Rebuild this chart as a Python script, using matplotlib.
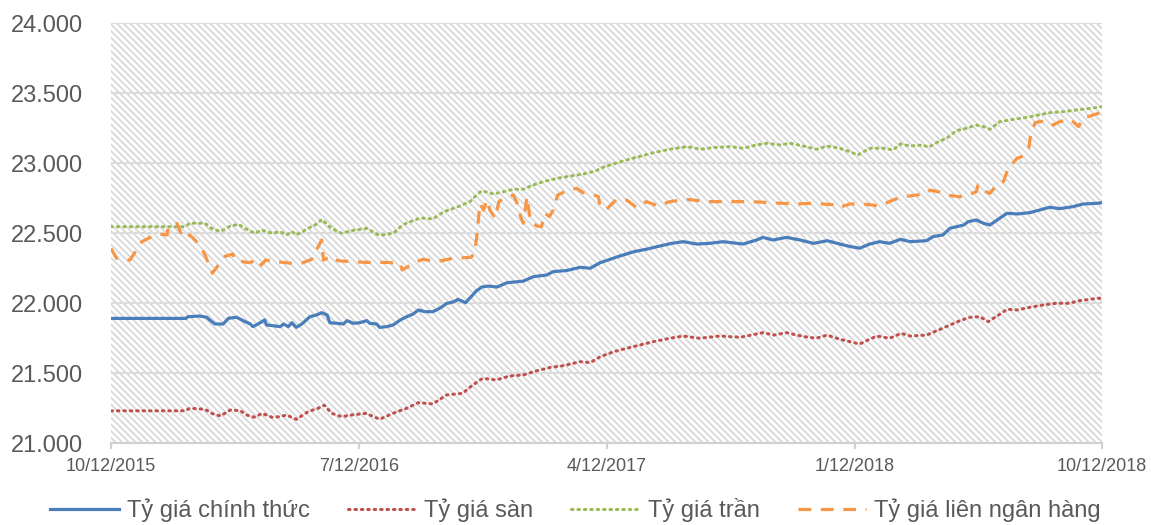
import numpy as np
import matplotlib
matplotlib.use('Agg')
from matplotlib import pyplot as plt
from matplotlib.patches import Rectangle

plt.rcParams['font.family'] = ['Liberation Sans', 'DejaVu Sans']
plt.rcParams['hatch.linewidth'] = 1.2

# Days counted from 10/12/2015, values in VND per USD
start = np.datetime64('2015-10-12')

chinh_thuc_days = [0, 83, 85, 98, 106, 109, 115, 124, 130, 139, 146, 154, 157, 165, 170, 172,
                   179, 187, 191, 196, 200, 205, 211, 220, 227, 233, 239, 242, 250, 257, 261,
                   268, 275, 283, 286, 294, 297, 305, 312, 320, 327, 334, 340, 347, 356, 364,
                   371, 379, 384, 392, 399, 404, 410, 417, 427, 438, 456, 467, 482, 489, 504,
                   519, 530, 541, 552, 563, 578, 592, 607, 620, 633, 648, 662, 677, 699, 714,
                   721, 732, 747, 762, 777, 792, 806, 817, 828, 839, 850, 861, 873, 884, 902,
                   909, 920, 928, 943, 948, 957, 965, 972, 980, 991, 1002, 1016, 1027, 1038,
                   1049, 1064, 1075, 1090, 1096]
chinh_thuc = [21890, 21890, 21902, 21907, 21898, 21879, 21850, 21850, 21891, 21898, 21874,
              21850, 21831, 21859, 21879, 21843, 21838, 21831, 21850, 21831, 21859, 21826,
              21850, 21902, 21914, 21931, 21914, 21859, 21855, 21850, 21874, 21855, 21859,
              21874, 21855, 21850, 21826, 21831, 21843, 21879, 21902, 21921, 21950, 21938,
              21938, 21964, 21996, 22009, 22026, 22002, 22050, 22086, 22114, 22121, 22114,
              22145, 22156, 22188, 22200, 22224, 22232, 22255, 22248, 22288, 22312, 22336,
              22366, 22384, 22407, 22426, 22438, 22421, 22426, 22438, 22421, 22450, 22469,
              22450, 22469, 22450, 22426, 22445, 22421, 22404, 22391, 22421, 22438, 22426,
              22455, 22438, 22445, 22474, 22486, 22534, 22557, 22581, 22593, 22569, 22557,
              22593, 22641, 22636, 22645, 22664, 22684, 22674, 22688, 22707, 22712, 22716]

san_days = [0, 82, 87, 104, 111, 121, 132, 143, 150, 159, 167, 178, 187, 194, 205, 218, 229,
            236, 244, 255, 266, 282, 297, 315, 327, 340, 356, 371, 389, 400, 411, 426, 441,
            456, 471, 486, 500, 519, 530, 541, 556, 570, 585, 600, 618, 633, 651, 673, 696,
            721, 733, 747, 766, 780, 792, 806, 817, 828, 839, 847, 861, 874, 884, 902, 917,
            928, 939, 950, 961, 970, 980, 991, 1002, 1016, 1031, 1045, 1060, 1071, 1083, 1090,
            1096]
san = [21230, 21230, 21248, 21241, 21212, 21193, 21236, 21231, 21200, 21184, 21212, 21184,
       21188, 21200, 21169, 21224, 21248, 21270, 21212, 21188, 21200, 21212, 21170, 21220,
       21248, 21288, 21279, 21343, 21355, 21414, 21462, 21450, 21479, 21486, 21516, 21540,
       21552, 21581, 21574, 21616, 21652, 21676, 21700, 21724, 21748, 21764, 21748, 21764,
       21755, 21788, 21771, 21788, 21760, 21748, 21771, 21741, 21724, 21707, 21741, 21764,
       21748, 21783, 21764, 21771, 21812, 21843, 21874, 21898, 21902, 21867, 21907, 21955,
       21950, 21969, 21986, 21998, 21998, 22017, 22026, 22033, 22035]

tran_days = [0, 82, 87, 104, 111, 121, 132, 141, 148, 159, 167, 178, 187, 194, 200, 205, 218,
             229, 233, 244, 255, 266, 283, 297, 312, 323, 342, 356, 368, 384, 397, 404, 410,
             423, 434, 445, 456, 467, 478, 493, 508, 522, 537, 541, 552, 567, 581, 600, 618,
             637, 652, 666, 685, 699, 714, 725, 740, 751, 766, 780, 792, 806, 817, 826, 839,
             854, 865, 873, 884, 898, 904, 915, 924, 935, 946, 957, 965, 972, 983, 998, 1013,
             1026, 1038, 1053, 1068, 1083, 1095]
tran = [22545, 22545, 22570, 22570, 22533, 22510, 22550, 22562, 22533, 22498, 22521, 22498,
        22510, 22486, 22510, 22486, 22533, 22569, 22598, 22533, 22498, 22517, 22533, 22482,
        22498, 22560, 22608, 22600, 22652, 22688, 22724, 22770, 22802, 22779, 22795, 22812,
        22812, 22843, 22867, 22890, 22907, 22921, 22945, 22962, 22986, 23016, 23040, 23074,
        23098, 23117, 23098, 23110, 23117, 23105, 23129, 23141, 23129, 23141, 23121, 23098,
        23121, 23105, 23081, 23057, 23105, 23105, 23093, 23136, 23121, 23129, 23112, 23152,
        23176, 23231, 23248, 23271, 23260, 23240, 23295, 23312, 23326, 23343, 23359, 23367,
        23379, 23390, 23402]

lnh_days = [0, 6, 21, 27, 34, 45, 52, 62, 63, 73, 78, 82, 87, 91, 98, 104, 112, 126, 135, 137,
            152, 164, 166, 171, 184, 200, 211, 222, 233, 235, 244, 251, 266, 283, 305, 320,
            322, 338, 345, 360, 378, 398, 402, 405, 408, 412, 416, 419, 425, 429, 438, 445,
            450, 453, 456, 460, 464, 471, 476, 480, 485, 489, 494, 504, 515, 522, 530, 539,
            541, 548, 559, 570, 581, 592, 605, 618, 637, 659, 681, 707, 729, 755, 777, 803,
            806, 817, 832, 850, 865, 876, 891, 902, 906, 919, 924, 939, 948, 957, 959, 963,
            972, 981, 987, 991, 994, 1002, 1009, 1015, 1017, 1018, 1022, 1027, 1035, 1042,
            1049, 1061, 1070, 1075, 1083, 1092, 1096]
lnh = [22390, 22320, 22307, 22367, 22438, 22474, 22493, 22486, 22533, 22569, 22486, 22462,
       22486, 22462, 22414, 22343, 22212, 22333, 22350, 22307, 22288, 22307, 22270, 22307,
       22295, 22283, 22285, 22312, 22450, 22307, 22333, 22302, 22295, 22290, 22290, 22283,
       22236, 22295, 22312, 22295, 22319, 22326, 22355, 22498, 22712, 22664, 22736, 22664,
       22605, 22724, 22759, 22771, 22700, 22617, 22569, 22759, 22581, 22550, 22545, 22641,
       22617, 22664, 22771, 22802, 22819, 22788, 22783, 22759, 22688, 22669, 22740, 22736,
       22684, 22724, 22693, 22724, 22740, 22724, 22724, 22724, 22717, 22707, 22712, 22700,
       22684, 22707, 22707, 22693, 22736, 22759, 22771, 22783, 22807, 22788, 22771, 22759,
       22771, 22795, 22843, 22807, 22783, 22855, 22867, 22938, 22974, 23033, 23050, 23105,
       23200, 23216, 23288, 23295, 23302, 23271, 23295, 23312, 23260, 23319, 23336, 23355,
       23359]

tick_dates = ['2015-10-12', '2016-07-12', '2017-04-12', '2018-01-12', '2018-10-12']
tick_labels = ['10/12/2015', '7/12/2016', '4/12/2017', '1/12/2018', '10/12/2018']
y_ticks = [21000, 21500, 22000, 22500, 23000, 23500, 24000]

series_names = ['Tỷ giá chính thức', 'Tỷ giá sàn', 'Tỷ giá trần', 'Tỷ giá liên ngân hàng']

fig = plt.figure(figsize=(11.51, 5.25), dpi=100)
ax = fig.add_axes([111 / 1151, 1 - 443 / 525, 991 / 1151, 420 / 525])

# hatched plot background
ax.add_patch(Rectangle((0, 0), 1, 1, transform=ax.transAxes, facecolor='white',
                       edgecolor='#d6d6d6', hatch='\\' * 5, lw=0, zorder=0))

def to_dates(days):
    return start + np.array(days).astype('timedelta64[D]')

ax.plot(to_dates(chinh_thuc_days), chinh_thuc, color='#4a7ebb', lw=2.3,
        label=series_names[0], zorder=3)
ax.plot(to_dates(san_days), san, color='#c0504d', lw=2.2, linestyle=(0, (0.5, 1.6)),
        dash_capstyle='round', label=series_names[1], zorder=3)
ax.plot(to_dates(tran_days), tran, color='#9bbb59', lw=2.2, linestyle=(0, (0.5, 1.6)),
        dash_capstyle='round', label=series_names[2], zorder=3)
ax.plot(to_dates(lnh_days), lnh, color='#f79646', lw=2.3, linestyle=(0, (4, 3)),
        label=series_names[3], zorder=3)

ax.set_xlim(np.datetime64(tick_dates[0]), np.datetime64(tick_dates[-1]))
ax.set_ylim(21000, 24000)
ax.set_xticks(np.array(tick_dates, dtype='datetime64[D]'))
ax.set_xticklabels(tick_labels)
ax.set_yticks(y_ticks)
ax.set_yticklabels([f'{v:,}'.replace(',', '.') for v in y_ticks])

ax.grid(axis='y', color='#dcdcdc', lw=1.5, zorder=1)
ax.set_axisbelow(True)
for side in ['top', 'left', 'right']:
    ax.spines[side].set_visible(False)
ax.spines['bottom'].set_color('#d0d0d0')
ax.spines['bottom'].set_linewidth(1.5)
ax.spines['bottom'].set_zorder(2)

ax.tick_params(axis='y', length=0, pad=20, labelsize=17, labelcolor='#595959')
ax.tick_params(axis='x', length=4, width=1.5, color='#d0d0d0', pad=7, labelsize=13,
               labelcolor='#595959')

fig.legend(loc='center', bbox_to_anchor=(0.5, 1 - 510 / 525), ncol=4, frameon=False,
           fontsize=17, labelcolor='#595959', handlelength=2.9, handletextpad=0.35,
           columnspacing=1.6)

plt.savefig('out.png', dpi=100)
